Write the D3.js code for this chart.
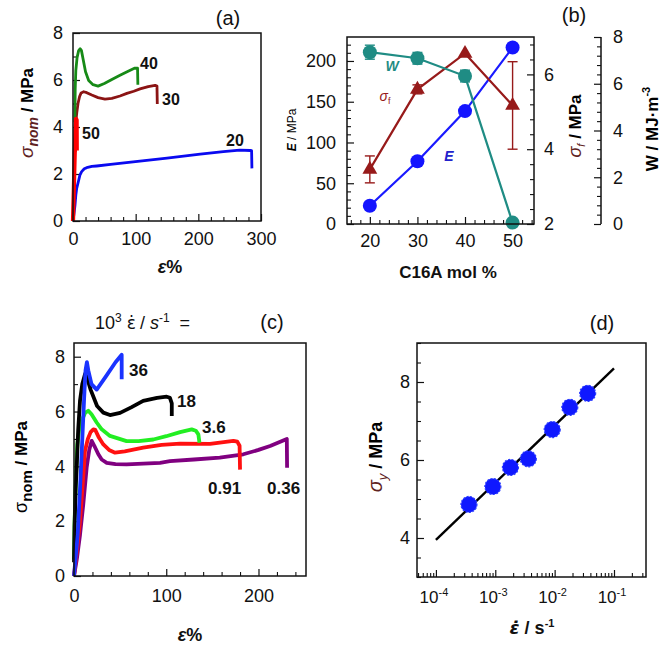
<!DOCTYPE html>
<html><head><meta charset="utf-8">
<script src="https://cdn.jsdelivr.net/npm/d3@7"></script>
<style>body{margin:0;background:#fff}</style>
</head><body>
<script>
// ---------------- DATA ----------------
// Panel (a): nominal stress-strain curves, C16A mol %
const aSeries = ["20", "30", "40", "50"];
const aCurve20 = [[0,0],[1.5,0.3],[3.2,0.68],[4.5,1.1],[5.9,1.39],[8.5,1.67],[11,1.95],[13.8,2.1],[18,2.22],[21.8,2.27],[30,2.32],[37.8,2.34],[60,2.41],[96,2.52],[150,2.68],[203,2.85],[240,2.95],[266,3.02],[283,3.0],[285,2.99],[285.5,2.24]];
const aCurve30 = [[4,4.1],[6,4.6],[8,5.0],[10.5,5.3],[13,5.45],[17,5.5],[22,5.46],[30,5.36],[40,5.25],[51,5.19],[62,5.22],[75,5.32],[86,5.43],[97,5.52],[107,5.62],[120,5.72],[131,5.77],[134,5.74],[134.5,4.98]];
const aCurve40 = [[3,4.2],[3.5,5.6],[4.5,6.4],[6.5,6.95],[9,7.25],[11.5,7.33],[13.5,7.25],[16,6.9],[20,6.35],[25,5.98],[32,5.8],[40,5.74],[50,5.85],[62,6.02],[75,6.2],[88,6.37],[98,6.5],[103,6.5],[103.5,5.8]];
const aCurve50 = [[0,0],[1.2,1.2],[2.5,2.6],[3.8,3.9],[4.8,4.35],[5.8,4.3],[6,3.0]];
const aXTicks = [0, 100, 200, 300];
const aYTicks = [0, 2, 4, 6, 8];

// Panel (b): properties vs C16A mol %
const bMol = [20, 30, 40, 50];
const bE = [22.4, 77, 138.5, 216.5];
const bSigF = [3.46, 5.6, 6.56, 5.17];
const bSigFErr = [0.36, 0.12, 0, 1.17];
const bW = [7.35, 7.09, 6.33, 0.06];
const bWErr = [0.3, 0.25, 0.25, 0];
const bXTicks = [20, 30, 40, 50];
const bETicks = [0, 50, 100, 150, 200];
const bSigTicks = [2, 4, 6];
const bWTicks = [0, 2, 4, 6, 8];

// Panel (c): curves at different strain rates (10^3 rate / s^-1)
const cSeries = ["36", "18", "3.6", "0.91", "0.36"];
const cCurve36 = [[0,0],[4,1.5],[7,3.5],[9,5],[11,6.5],[12.5,7.5],[14,7.8],[15.5,7.5],[19,7.0],[24.6,6.8],[35,7.3],[45,7.8],[51.7,8.07],[51.7,7.18]];
const cCurve18 = [[0,0.5],[0.6,1.8],[1.8,3.2],[2.9,3.94],[4.5,5.3],[6.5,6.39],[9,7.0],[12,7.37],[14,7.25],[18,6.8],[25,6.2],[31.8,5.96],[39,5.87],[50,5.95],[62,6.15],[75,6.39],[90,6.5],[100.5,6.54],[104,6.5],[106,6.3],[106,5.84]];
const cCurve3_6 = [[0,0.6],[0.5,1.8],[1.5,3.0],[2.5,4.0],[3.6,4.8],[5.5,5.3],[8.3,5.66],[12,5.95],[15.5,6.03],[19,5.9],[24.6,5.6],[30,5.35],[39,5.11],[57,4.92],[70,4.92],[86,4.98],[100,5.1],[115,5.25],[127.6,5.35],[132,5.3],[134.8,5.17],[136,4.86]];
const cCurve0_91 = [[0,0],[3,0.9],[6.5,2.0],[9.5,3.4],[11.9,4.56],[15,5.0],[18,5.25],[21,5.35],[23,5.33],[27,5.05],[31.8,4.8],[38,4.6],[44.5,4.5],[55,4.55],[75,4.68],[95,4.78],[115,4.83],[147.5,4.82],[172.8,4.93],[177,4.9],[179.5,4.75],[180,3.88]];
const cCurve0_36 = [[0,0],[3,0.6],[6.5,1.5],[10,2.6],[13.7,3.95],[16.5,4.6],[19.2,4.93],[22,4.75],[26.4,4.44],[30,4.25],[35.5,4.13],[45,4.08],[57,4.07],[75,4.1],[93.3,4.13],[104,4.19],[130,4.25],[158,4.32],[183.6,4.44],[200,4.6],[212.6,4.74],[230.7,5.0],[231,3.95]];
const cXTicks = [0, 100, 200];
const cYTicks = [0, 2, 4, 6, 8];

// Panel (d): yield stress vs strain rate
const dRate = [3.6e-4, 9.1e-4, 1.8e-3, 3.6e-3, 9.1e-3, 1.8e-2, 3.6e-2];
const dSigY = [4.86, 5.32, 5.81, 6.03, 6.78, 7.35, 7.71];
const dFit = [[1e-4, 3.95], [1e-1, 8.35]];
const dXExp = [-4, -3, -2, -1];
const dYTicks = [4, 6, 8];

// ---------------- DRAWING ----------------
const F = "'Liberation Sans', Arial, sans-serif";
const FE = "'DejaVu Sans', sans-serif";
const INK = "#111";
const SIGC = "#5e2222";
const TFS = 18;
const EPSDOT = "\u03B5\u0307";
const svg = d3.select("body").append("svg").attr("width", 666).attr("height", 664);

function axis(gen, scale, pos, majors, minors, fmt, pad, fs) {
  const g = svg.append("g").attr("transform", pos)
    .call(gen(scale).tickValues(majors).tickSize(-7).tickSizeOuter(0).tickPadding(pad).tickFormat(fmt || (d => d)));
  g.select(".domain").remove();
  g.selectAll("text").attr("font-size", fs || TFS).attr("font-family", F).attr("fill", INK);
  g.selectAll("line").attr("stroke", INK).attr("stroke-width", 1.2);
  if (minors) {
    const m = svg.append("g").attr("transform", pos)
      .call(gen(scale).tickValues(minors).tickSize(-4).tickSizeOuter(0).tickFormat(""));
    m.select(".domain").remove();
    m.selectAll("line").attr("stroke", INK).attr("stroke-width", 1.1);
  }
  return g;
}
function frame(x, y) {
  svg.append("rect").attr("x", x.range()[0]).attr("y", y.range()[1])
    .attr("width", x.range()[1] - x.range()[0]).attr("height", y.range()[0] - y.range()[1])
    .attr("fill", "none").attr("stroke", INK).attr("stroke-width", 1.5);
}
function curve(x, y, pts, color, w) {
  svg.append("path").datum(pts)
    .attr("d", d3.line().x(d => x(d[0])).y(d => y(d[1])))
    .attr("fill", "none").attr("stroke", color).attr("stroke-width", w)
    .attr("stroke-linejoin", "round");
}
function label(x, y, txt, opt) {
  const t = svg.append("text").attr("x", x).attr("y", y).attr("font-family", F)
    .attr("font-size", opt.fs || 17).attr("font-weight", opt.fw || "normal")
    .attr("fill", opt.c || INK).attr("text-anchor", opt.a || "start")
    .attr("font-style", opt.it ? "italic" : "normal").text(txt);
  return t;
}
function minorRange(a, b, step, majors) {
  return d3.range(a, b + step / 2, step).map(v => +v.toFixed(6)).filter(v => !majors.some(m => Math.abs(m - v) < 1e-6));
}

// ===== Panel (a) =====
const aX = d3.scaleLinear().domain([0, 300]).range([73, 261]);
const aY = d3.scaleLinear().domain([0, 8]).range([221, 33]);
axis(d3.axisBottom, aX, "translate(0,221)", aXTicks, minorRange(0, 300, 20, aXTicks), null, 11);
axis(d3.axisLeft, aY, "translate(73,0)", aYTicks, minorRange(0, 8, 1, aYTicks), null, 10);
curve(aX, aY, aCurve20, "#0a0af0", 2.8);
curve(aX, aY, aCurve30, "#8b1414", 2.8);
curve(aX, aY, aCurve40, "#178a17", 2.8);
curve(aX, aY, aCurve50, "#ff0000", 4.2);
frame(aX, aY);
label(226, 146, aSeries[0], {fw: "bold", fs: 16});
label(162, 105, aSeries[1], {fw: "bold", fs: 16});
label(140, 69, aSeries[2], {fw: "bold", fs: 16});
label(82, 139, aSeries[3], {fw: "bold", fs: 16});
label(228, 25, "(a)", {a: "middle", fs: 20});
{
  const t = svg.append("text").attr("transform", "translate(33,113) rotate(-90)")
    .attr("text-anchor", "middle").attr("font-family", F).attr("font-size", 17);
  t.append("tspan").attr("font-style", "italic").attr("fill", SIGC).attr("font-size", 19).text("σ");
  t.append("tspan").attr("font-style", "italic").attr("fill", SIGC).attr("font-size", 14).attr("font-weight", "bold").attr("dy", 5).text("nom");
  t.append("tspan").attr("font-weight", "bold").attr("dy", -5).text("  / MPa");
}
{
  const t = label(170, 273, "", {a: "middle", fw: "bold", fs: 18});
  t.append("tspan").attr("font-style", "italic").text("ε");
  t.append("tspan").text("%");
}

// ===== Panel (b) =====
const bX = d3.scaleLinear().domain([15.2, 54.5]).range([347, 534]);
const bYE = d3.scaleLinear().domain([0, 229.4]).range([224, 37]);
const bYS = d3.scaleLinear().domain([2, 7]).range([224, 37]);
const bYW = d3.scaleLinear().domain([0, 8]).range([224, 37]);
axis(d3.axisBottom, bX, "translate(0,224)", bXTicks, minorRange(16, 54, 2, bXTicks), null, 10);
axis(d3.axisLeft, bYE, "translate(347,0)", bETicks, minorRange(0, 220, 10, bETicks), null, 11);
axis(d3.axisRight, bYS, "translate(534,0)", bSigTicks, minorRange(2, 7, 0.4, bSigTicks), null, 10);
axis(d3.axisRight, bYW, "translate(601,0)", bWTicks, minorRange(0, 8, 0.4, bWTicks), null, 12);
svg.append("line").attr("x1", 601).attr("x2", 601).attr("y1", bYW(0)).attr("y2", bYW(8)).attr("stroke", INK).attr("stroke-width", 1.5);
// E (blue circles)
const lineE = d3.line().x((d, i) => bX(bMol[i])).y(d => bYE(d));
svg.append("path").datum(bE).attr("d", lineE).attr("fill", "none").attr("stroke", "#1a1aff").attr("stroke-width", 2.2);
svg.selectAll(".pe").data(bE).enter().append("circle").attr("cx", (d, i) => bX(bMol[i])).attr("cy", d => bYE(d)).attr("r", 7).attr("fill", "#1414ff");
// sigma_f (dark red triangles)
const lineS = d3.line().x((d, i) => bX(bMol[i])).y(d => bYS(d));
svg.append("path").datum(bSigF).attr("d", lineS).attr("fill", "none").attr("stroke", "#971a1a").attr("stroke-width", 2.2);
bSigF.forEach((v, i) => {
  const e = bSigFErr[i]; if (!e) return;
  const cx = bX(bMol[i]);
  const g = svg.append("g").attr("stroke", "#971a1a").attr("stroke-width", 1.4);
  g.append("line").attr("x1", cx).attr("x2", cx).attr("y1", bYS(v - e)).attr("y2", bYS(v + e));
  g.append("line").attr("x1", cx - 5).attr("x2", cx + 5).attr("y1", bYS(v - e)).attr("y2", bYS(v - e));
  g.append("line").attr("x1", cx - 5).attr("x2", cx + 5).attr("y1", bYS(v + e)).attr("y2", bYS(v + e));
});
svg.selectAll(".ps").data(bSigF).enter().append("path")
  .attr("d", d3.symbol().type(d3.symbolTriangle).size(95))
  .attr("transform", (d, i) => `translate(${bX(bMol[i])},${bYS(d)})`).attr("fill", "#971a1a");
// W (teal circles)
const lineW = d3.line().x((d, i) => bX(bMol[i])).y(d => bYW(d));
svg.append("path").datum(bW).attr("d", lineW).attr("fill", "none").attr("stroke", "#1f8c84").attr("stroke-width", 2.2);
bW.forEach((v, i) => {
  const e = bWErr[i]; if (!e) return;
  const cx = bX(bMol[i]);
  const g = svg.append("g").attr("stroke", "#1f8c84").attr("stroke-width", 1.4);
  g.append("line").attr("x1", cx).attr("x2", cx).attr("y1", bYW(v - e)).attr("y2", bYW(v + e));
  g.append("line").attr("x1", cx - 5).attr("x2", cx + 5).attr("y1", bYW(v - e)).attr("y2", bYW(v - e));
  g.append("line").attr("x1", cx - 5).attr("x2", cx + 5).attr("y1", bYW(v + e)).attr("y2", bYW(v + e));
});
svg.selectAll(".pw").data(bW).enter().append("circle").attr("cx", (d, i) => bX(bMol[i])).attr("cy", d => bYW(d)).attr("r", 7).attr("fill", "#1f8c84");
frame(bX, bYE);
label(392, 71, "W", {a: "middle", it: true, fw: "bold", fs: 14, c: "#1f8c84"});
{
  const t = label(385, 101, "", {a: "middle", fs: 14, c: "#971a1a"});
  t.append("tspan").attr("font-style", "italic").text("σ");
  t.append("tspan").attr("font-size", 9).attr("dy", 3).text("f");
}
label(449, 161, "E", {a: "middle", it: true, fw: "bold", fs: 14, c: "#2222cc"});
label(448, 278, "C16A mol %", {a: "middle", fw: "bold", fs: 17});
label(574, 22, "(b)", {a: "middle", fs: 20});
{
  const t = svg.append("text").attr("transform", "translate(296,130) rotate(-90)")
    .attr("text-anchor", "middle").attr("font-family", F).attr("font-size", 12);
  t.append("tspan").attr("font-style", "italic").attr("font-weight", "bold").text("E");
  t.append("tspan").text(" / MPa");
}
{
  const t = svg.append("text").attr("transform", "translate(581,126) rotate(-90)")
    .attr("text-anchor", "middle").attr("font-family", F).attr("font-size", 17);
  t.append("tspan").attr("font-style", "italic").attr("fill", SIGC).attr("font-size", 18).text("σ");
  t.append("tspan").attr("font-style", "italic").attr("fill", SIGC).attr("font-size", 11).attr("dy", 4).text("f");
  t.append("tspan").attr("font-weight", "bold").attr("dy", -4).text(" / MPa");
}
{
  const t = svg.append("text").attr("transform", "translate(658,129) rotate(-90)")
    .attr("text-anchor", "middle").attr("font-family", F).attr("font-size", 17).attr("font-weight", "bold");
  t.append("tspan").text("W /  MJ·m");
  t.append("tspan").attr("font-size", 11).attr("dy", -8).text("-3");
}

// ===== Panel (c) =====
const cX = d3.scaleLinear().domain([0, 251.5]).range([74, 306]);
const cY = d3.scaleLinear().domain([0, 8.5]).range([576, 343]);
axis(d3.axisBottom, cX, "translate(0,576)", cXTicks, minorRange(0, 240, 20, cXTicks), null, 13);
axis(d3.axisLeft, cY, "translate(74,0)", cYTicks, minorRange(0, 8, 1, cYTicks), null, 9);
curve(cX, cY, cCurve0_36, "#800080", 3.8);
curve(cX, cY, cCurve0_91, "#ff1010", 3.8);
curve(cX, cY, cCurve3_6, "#22ee22", 3.8);
curve(cX, cY, cCurve18, "#000000", 3.8);
curve(cX, cY, cCurve36, "#1a33ff", 3.8);
frame(cX, cY);
label(129, 376, cSeries[0], {fw: "bold", fs: 17});
label(177, 407, cSeries[1], {fw: "bold", fs: 17});
label(202, 433, cSeries[2], {fw: "bold", fs: 17});
label(208, 494, cSeries[3], {fw: "bold", fs: 17});
label(267, 494, cSeries[4], {fw: "bold", fs: 17});
{
  const t = label(95, 329, "", {fs: 18});
  t.append("tspan").text("10");
  t.append("tspan").attr("font-size", 12).attr("dy", -7).text("3");
  t.append("tspan").attr("dy", 7).attr("dx", 5).attr("font-family", FE).attr("font-size", 17).text(EPSDOT);
  t.append("tspan").attr("dx", 4).text("/ ");
  t.append("tspan").attr("font-style", "italic").text("s");
  t.append("tspan").attr("font-size", 12).attr("dy", -7).text("-1");
  t.append("tspan").attr("dy", 7).attr("dx", 10).text("=");
}
label(272, 329, "(c)", {a: "middle", fs: 20});
{
  const t = svg.append("text").attr("transform", "translate(27,467) rotate(-90)")
    .attr("text-anchor", "middle").attr("font-family", F).attr("font-size", 17).attr("font-weight", "bold");
  t.append("tspan").attr("font-weight", "normal").attr("font-size", 18).text("σ");
  t.append("tspan").attr("font-size", 15).attr("dy", 5).text("nom");
  t.append("tspan").attr("dy", -5).text("  /  MPa");
}
{
  const t = label(190, 641, "", {a: "middle", fw: "bold", fs: 18});
  t.append("tspan").attr("font-style", "italic").text("ε");
  t.append("tspan").text("%");
}

// ===== Panel (d) =====
const dX = d3.scaleLog().domain([4.8e-5, 0.346]).range([417, 646]);
const dY = d3.scaleLinear().domain([3, 9]).range([577, 343]);
const dMaj = dXExp.map(e => Math.pow(10, e));
const dMin = dX.ticks().filter(v => !dMaj.some(m => Math.abs(m - v) / m < 1e-6));
axis(d3.axisBottom, dX, "translate(0,577)", dMaj, dMin, () => "", 12);
axis(d3.axisLeft, dY, "translate(417,0)", dYTicks, minorRange(3, 9, 0.5, dYTicks), null, 7);
dXExp.forEach(e => {
  const t = label(dX(Math.pow(10, e)) - 2, 603, "", {a: "middle", fs: 17});
  t.append("tspan").text("10");
  t.append("tspan").attr("font-size", 11).attr("dy", -7).text(String(e));
});
svg.append("path").datum(dFit).attr("d", d3.line().x(d => dX(d[0])).y(d => dY(d[1])))
  .attr("stroke", "#000").attr("stroke-width", 2.4).attr("fill", "none");
svg.selectAll(".pd").data(dRate).enter().append("circle")
  .attr("cx", d => dX(d)).attr("cy", (d, i) => dY(dSigY[i])).attr("r", 8)
  .attr("fill", "#0f18ff").attr("stroke", "#2a3cff").attr("stroke-width", 1.2).attr("stroke-dasharray", "2,1.5");
frame(dX, dY);
label(602, 330, "(d)", {a: "middle", fs: 20});
{
  const t = svg.append("text").attr("transform", "translate(382,457) rotate(-90)")
    .attr("text-anchor", "middle").attr("font-family", F).attr("font-size", 18);
  t.append("tspan").attr("font-style", "italic").attr("fill", SIGC).attr("font-size", 20).text("σ");
  t.append("tspan").attr("font-style", "italic").attr("fill", SIGC).attr("font-size", 13).attr("dy", 5).text("y");
  t.append("tspan").attr("font-weight", "bold").attr("dy", -5).text("  /  MPa");
}
{
  const t = label(532, 634, "", {a: "middle", fw: "bold", fs: 18});
  t.append("tspan").attr("font-family", FE).attr("font-style", "italic").text(EPSDOT);
  t.append("tspan").text(" / s");
  t.append("tspan").attr("font-size", 11).attr("dy", -7).text("-1");
}
</script>
</body></html>
